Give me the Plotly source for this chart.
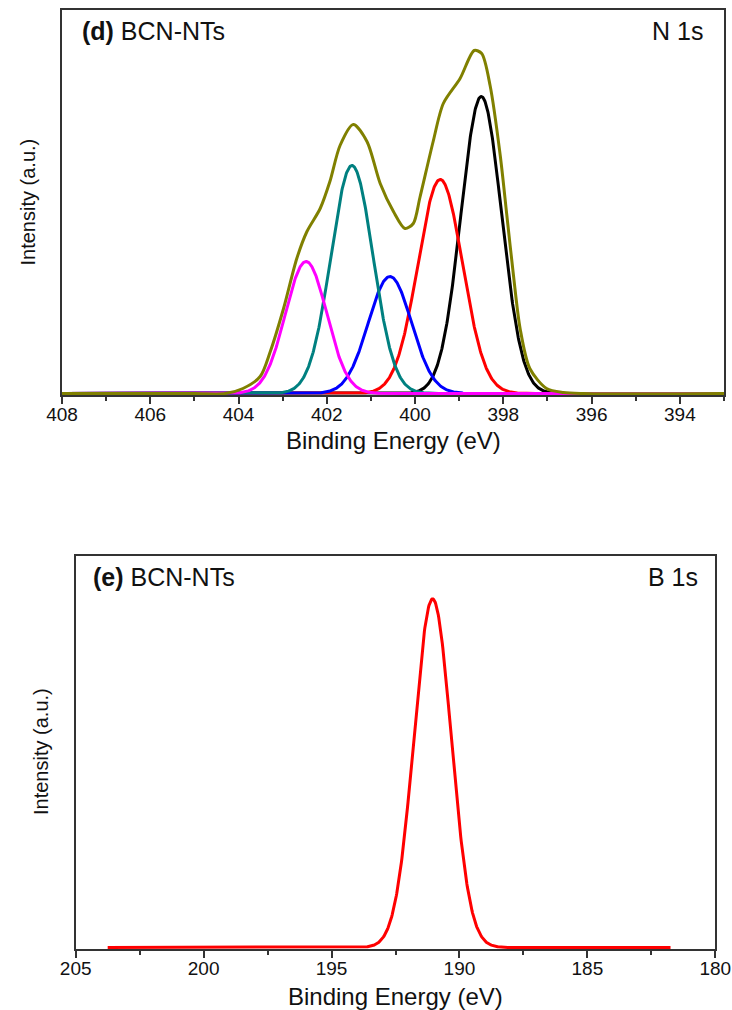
import numpy as np
import plotly.graph_objects as go

# ---------------- Panel (d): N 1s ----------------
# fitted component peaks: centre (eV), height (a.u.), FWHM (eV)
n1s_centers = [398.50, 399.43, 400.57, 401.43, 402.47]
n1s_heights = [297, 214, 117, 228, 132]
n1s_fwhm = [1.08, 1.19, 1.15, 1.12, 1.10]
n1s_colors = ["#000000", "#FF0000", "#0000FF", "#008080", "#FF00FF"]

env_energy = [408.0, 405.0, 404.30, 403.90, 403.51, 403.28, 402.98, 402.68, 402.45,
              402.15, 401.93, 401.70, 401.40, 401.09, 400.79, 400.49, 400.23, 400.04,
              399.89, 399.59, 399.36, 398.98, 398.66, 398.49, 398.30, 398.07, 397.92,
              397.77, 397.62, 397.40, 397.02, 396.64, 396.20, 393.0]
env_int = [0, 0, 0, 5, 17, 42, 85, 135, 162,
           185, 212, 248, 269, 252, 210, 182, 165, 170,
           196, 252, 290, 315, 343, 340, 308, 238, 178,
           118, 65, 25, 5, 1, 0, 0]

# ---------------- Panel (e): B 1s ----------------
b1s_center = 191.05
b1s_height = 348.6
b1s_fwhm = 1.71
b1s_start, b1s_end = 203.75, 181.75

n1s_ticks = [408, 406, 404, 402, 400, 398, 396, 394]
b1s_ticks = [205, 200, 195, 190, 185, 180]

W, H = 732, 1010
FONT = "Liberation Sans, Arial, Helvetica, sans-serif"
AX = "#333333"


def gauss(x, c, h, fw):
    s = fw / 2.3548
    return h * np.exp(-(x - c) ** 2 / (2 * s * s))


def px_x(p):
    return p / W


def px_y(p):
    return 1 - p / H


fig = go.Figure()

xe = np.linspace(408, 393, 1501)
for c, h, fw, col in zip(n1s_centers, n1s_heights, n1s_fwhm, n1s_colors):
    fig.add_trace(go.Scatter(x=xe, y=gauss(xe, c, h, fw), mode="lines",
                             line=dict(color=col, width=3), xaxis="x", yaxis="y",
                             showlegend=False, hoverinfo="skip"))
fig.add_trace(go.Scatter(x=env_energy, y=env_int, mode="lines",
                         line=dict(color="#808000", width=3, shape="spline", smoothing=0.8),
                         xaxis="x", yaxis="y", showlegend=False))

xb = np.linspace(b1s_start, b1s_end, 1101)
fig.add_trace(go.Scatter(x=xb, y=gauss(xb, b1s_center, b1s_height, b1s_fwhm), mode="lines",
                         line=dict(color="#FF0000", width=3), xaxis="x2", yaxis="y2",
                         showlegend=False))

axis_common = dict(showline=True, linecolor=AX, linewidth=2, mirror=True,
                   showgrid=False, zeroline=False, automargin=False)

fig.update_layout(
    width=W, height=H,
    margin=dict(l=0, r=0, t=0, b=0, autoexpand=False),
    paper_bgcolor="white", plot_bgcolor="white",
    font=dict(family=FONT, color="#111111"),
    xaxis=dict(domain=[px_x(62), px_x(724)], range=[408, 393], anchor="y",
               tickmode="array", tickvals=n1s_ticks, ticks="outside", ticklen=7,
               tickwidth=2, tickcolor=AX, tickfont=dict(size=19, family=FONT),
               ticklabelstandoff=-6, ticklabeloverflow="allow",
               minor=dict(dtick=1, ticks="outside", ticklen=4, tickwidth=2, tickcolor=AX),
               **axis_common),
    yaxis=dict(domain=[px_y(395), px_y(10)], range=[-1.5, 383.5], anchor="x",
               showticklabels=False, ticks="", **axis_common),
    xaxis2=dict(domain=[px_x(75.7), px_x(715.3)], range=[205, 180], anchor="y2",
                tickmode="array", tickvals=b1s_ticks, ticks="outside", ticklen=7,
                tickwidth=2, tickcolor=AX, tickfont=dict(size=19, family=FONT),
                ticklabelstandoff=-6, ticklabeloverflow="allow",
                minor=dict(dtick=2.5, ticks="outside", ticklen=4, tickwidth=2, tickcolor=AX),
                **axis_common),
    yaxis2=dict(domain=[px_y(949), px_y(556)], range=[-1.5, 391.5], anchor="x2",
                showticklabels=False, ticks="", **axis_common),
)

ann = [
    dict(text="<b>(d)</b> BCN-NTs", x=80, y=31, xanchor="left", size=25),
    dict(text="N 1s", x=705, y=31, xanchor="right", size=25),
    dict(text="<b>(e)</b> BCN-NTs", x=91, y=577, xanchor="left", size=25),
    dict(text="B 1s", x=700, y=577, xanchor="right", size=25),
    dict(text="Binding Energy (eV)", x=393, y=441, xanchor="center", size=24),
    dict(text="Binding Energy (eV)", x=395.5, y=996, xanchor="center", size=24),
]
for a in ann:
    fig.add_annotation(text=a["text"], x=px_x(a["x"]), y=px_y(a["y"]), xref="paper",
                       yref="paper", xanchor=a["xanchor"], yanchor="middle", showarrow=False,
                       font=dict(size=a["size"], family=FONT, color="#111111"))
for yy, xx in [(202, 27.5), (752, 41)]:
    fig.add_annotation(text="Intensity (a.u.)", x=px_x(xx), y=px_y(yy), xref="paper",
                       yref="paper", xanchor="center", yanchor="middle", textangle=-90,
                       showarrow=False, font=dict(size=20, family=FONT, color="#111111"))

fig.write_html("out.html", config={"displayModeBar": False},
               post_script="document.body.style.margin='0px';")
